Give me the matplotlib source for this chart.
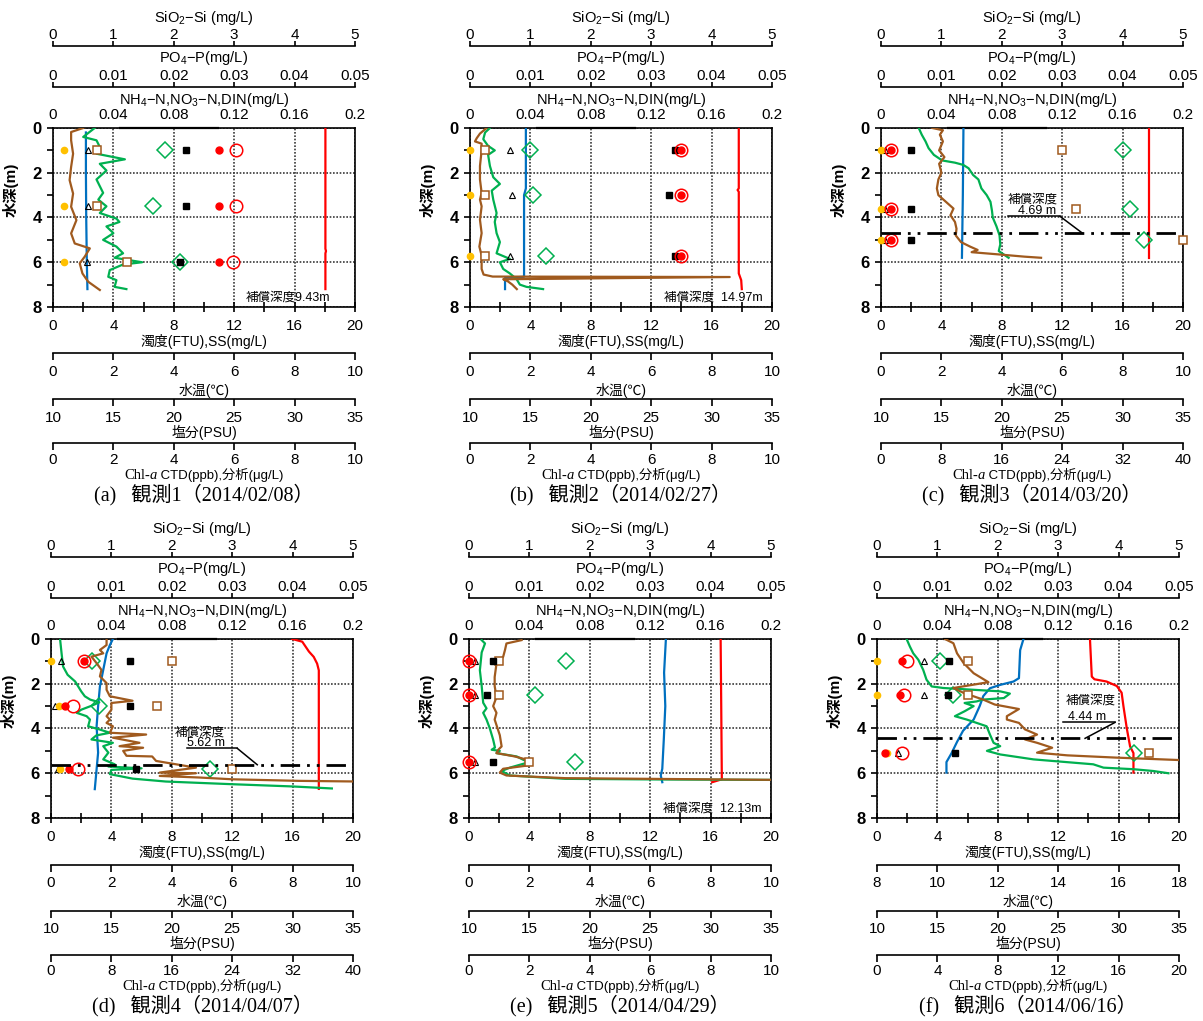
import numpy as np
import matplotlib
matplotlib.use("Agg")
import matplotlib.pyplot as plt
import matplotlib.transforms as mtransforms
from matplotlib.ticker import FuncFormatter
from matplotlib.offsetbox import TextArea, HPacker, AnnotationBbox

plt.rcParams['font.family'] = ['Liberation Sans', 'Noto Sans CJK JP', 'DejaVu Sans']
plt.rcParams['mathtext.fontset'] = 'custom'
plt.rcParams['mathtext.rm'] = 'Liberation Sans'
plt.rcParams['axes.unicode_minus'] = False

# ---------------- 観測1 (a) ----------------
A_DEPTH = [1.0, 3.5, 6.0]
A_NH4 = [0.007, 0.007, 0.007]
A_NO3 = [0.110, 0.110, 0.110]
A_DIN = [0.121, 0.121, 0.119]
A_PO4 = [0.0058, 0.0058, 0.0057]
A_SIO2 = [2.2, 2.2, 2.1]
A_SS = [2.9, 2.9, 4.9]
A_CHLA = [3.7, 3.3, 4.2]
A_TEMP_Z = [0.2, 2.0, 4.0, 6.0, 7.2]
A_TEMP = [1.09, 1.09, 1.10, 1.12, 1.14]
A_SAL_Z = [0.0, 5.4, 5.5, 5.6, 7.2]
A_SAL = [32.55, 32.55, 32.6, 32.55, 32.55]
A_TURB_Z = [0.0, 0.18, 0.55, 1.15, 1.74, 2.33, 2.93, 3.52, 4.12, 4.71, 5.16, 5.38, 5.75, 6.05, 6.5, 6.87, 7.24]
A_TURB = [2.0, 1.2, 1.2, 1.33, 1.2, 1.1, 1.33, 1.2, 1.55, 1.2, 1.44, 2.44, 2.1, 1.77, 1.95, 2.33, 3.1]
A_CHL_Z = [0.0, 0.4, 0.55, 0.85, 1.15, 1.4, 1.6, 1.9, 2.3, 2.9, 3.2, 3.5, 3.8, 4.05,
           4.2, 4.4, 4.7, 5.0, 5.3, 5.6, 5.8, 6.0, 6.1, 6.35, 6.65, 6.8, 7.1, 7.2]
A_CHL = [1.38, 1.0, 1.44, 1.55, 1.44, 2.38, 1.55, 1.77, 1.44, 1.66, 1.5, 1.77, 1.55, 2.1,
         2.2, 1.77, 2.0, 1.66, 2.1, 2.32, 2.04, 2.95, 2.32, 1.88, 1.83, 2.1, 2.04, 2.43]

# ---------------- 観測2 (b) ----------------
B_DEPTH = [1.0, 3.0, 5.7]
B_NH4 = [0.0, 0.0, 0.0]
B_NO3 = [0.14, 0.14, 0.14]
B_DIN = [0.14, 0.14, 0.14]
B_PO4 = [0.0066, 0.0069, 0.0066]
B_SIO2 = [3.39, 3.29, 3.39]
B_SS = [1.0, 1.0, 1.0]
B_CHLA = [2.0, 2.1, 2.5]
B_TEMP_Z = [0.0, 2.7, 3.0, 6.65, 6.7, 7.2]
B_TEMP = [1.85, 1.85, 1.79, 1.79, 1.16, 1.16]
B_SAL_Z = [0.0, 2.7, 2.77, 2.85, 6.5, 6.8, 7.2]
B_SAL = [32.25, 32.25, 32.15, 32.25, 32.25, 32.45, 32.5]
B_TURB_Z = [0.0, 0.25, 0.45, 0.6, 0.7, 1.0, 1.7, 2.3, 2.9, 3.2, 3.5, 4.1, 4.7, 5.3, 5.7,
            6.3, 6.55, 6.64, 6.66, 6.76, 6.85, 7.0, 7.2]
B_TURB = [1.1, 0.66, 0.45, 0.33, 0.77, 0.77, 0.66, 0.66, 0.77, 0.66, 0.77, 0.66, 0.77, 0.62, 0.77,
          0.77, 0.9, 1.5, 17.2, 2.2, 2.5, 2.8, 3.1]
B_CHL_Z = [0.0, 0.2, 0.5, 0.8, 1.0, 1.2, 1.7, 2.2, 2.5, 2.8, 3.2, 3.8, 4.2, 4.7, 5.1, 5.6,
           5.85, 6.0, 6.3, 6.5, 6.75, 7.0, 7.1, 7.2]
B_CHL = [0.66, 0.5, 0.44, 0.6, 0.82, 0.6, 0.66, 0.77, 0.99, 0.72, 0.77, 0.88, 0.82, 0.88, 0.99, 0.88,
         1.32, 0.99, 1.1, 1.32, 1.54, 1.65, 1.87, 2.42]

# ---------------- 観測3 (c) ----------------
C_DEPTH = [1.0, 3.6, 5.0]
C_NH4 = [0.0, 0.0, 0.0]
C_NO3 = [0.0066, 0.0066, 0.0066]
C_DIN = [0.0066, 0.0066, 0.0066]
C_PO4 = [0.0007, 0.0007, 0.0007]
C_SIO2 = [0.5, 0.5, 0.5]
C_SS = [12.0, 12.9, 20.0]
C_CHLA = [32.0, 33.0, 34.9]
C_TEMP_Z = [0.0, 3.0, 5.8]
C_TEMP = [2.73, 2.71, 2.68]
C_SAL_Z = [0.0, 5.8]
C_SAL = [32.2, 32.2]
C_TURB_Z = [0.0, 0.1, 0.3, 0.6, 1.0, 1.3, 1.6, 2.0, 2.3, 2.7, 3.0, 3.3, 3.6, 3.9, 4.2, 4.5,
            4.8, 5.1, 5.3, 5.45, 5.55, 5.65, 5.75, 5.8]
C_TURB = [3.4, 4.1, 3.9, 4.1, 3.85, 4.2, 3.85, 4.0, 3.8, 3.7, 3.8, 4.3, 4.8, 4.6, 4.9, 5.0,
          4.95, 5.3, 5.9, 6.4, 6.0, 7.8, 9.5, 10.6]
C_CHL_Z = [0.0, 0.3, 0.6, 0.9, 1.2, 1.45, 1.55, 1.65, 1.8, 2.1, 2.3, 2.7, 3.0, 3.3, 3.7, 4.0,
           4.4, 4.8, 5.2, 5.5, 5.8]
C_CHL = [5.0, 5.4, 5.9, 6.3, 7.0, 8.1, 9.8, 10.9, 11.6, 12.2, 12.9, 13.3, 14.0, 14.5, 14.7, 14.8,
         15.3, 15.7, 15.8, 15.6, 16.9]

# ---------------- 観測4 (d) ----------------
D_DEPTH = [1.0, 3.0, 5.8]
D_NH4 = [0.0, 0.0053, 0.006]
D_NO3 = [0.0218, 0.0092, 0.0119]
D_DIN = [0.0218, 0.0143, 0.018]
D_PO4 = [0.0016, 0.0007, 0.0012]
D_SIO2 = [1.3, 1.3, 1.4]
D_SS = [8.0, 7.0, 12.0]
D_CHLA = [5.4, 6.3, 21.0]
D_TEMP_Z = [0.0, 0.27, 0.64, 1.38, 2.12, 3.0, 3.9, 5.08, 5.82, 6.71]
D_TEMP = [2.05, 1.95, 1.84, 1.73, 1.62, 1.56, 1.51, 1.56, 1.51, 1.45]
D_SAL_Z = [0.0, 0.12, 0.56, 0.8, 1.1, 1.4, 6.7]
D_SAL = [29.97, 30.8, 31.35, 31.75, 32.03, 32.17, 32.17]
D_TURB_Z = [0.0, 0.27, 0.49, 0.64, 0.79, 1.08, 1.38, 1.67, 1.97, 2.27, 2.56, 2.76, 2.86, 3.16,
            3.45, 3.6, 3.75, 3.9, 4.19, 4.27, 4.41, 4.64, 4.79, 4.86, 5.0, 5.22, 5.25, 5.45,
            5.75, 5.97, 6.0, 6.12, 6.19, 6.27, 6.34, 6.37]
D_TURB = [3.68, 3.68, 3.24, 3.46, 2.68, 3.02, 3.34, 3.24, 3.68, 3.68, 3.9, 5.4, 4.0, 4.0,
          3.68, 3.9, 3.68, 4.1, 3.9, 6.3, 4.1, 5.86, 4.54, 6.1, 4.78, 5.0, 6.7, 6.96,
          9.6, 7.2, 9.6, 7.2, 9.8, 12.0, 16.4, 20.4]
D_CHL_Z = [0.0, 0.64, 1.23, 1.6, 1.9, 2.12, 2.34, 2.56, 2.71, 2.83, 2.98, 3.16, 3.3, 3.45,
           3.6, 3.9, 4.04, 4.19, 4.31, 4.49, 4.64, 4.79, 5.08, 5.38, 5.6, 5.7, 5.78, 5.85,
           6.04, 6.24, 6.37, 6.49, 6.59, 6.68]
D_CHL = [1.2, 1.4, 1.6, 2.2, 3.2, 3.6, 4.0, 4.48, 5.2, 6.4, 5.4, 4.0, 3.4, 4.72,
         5.16, 4.92, 6.4, 7.8, 6.0, 5.36, 8.2, 6.92, 7.6, 6.92, 8.44, 7.6, 12.0, 8.0,
         7.8, 10.8, 15.2, 24.0, 32.0, 37.2]

# ---------------- 観測5 (e) ----------------
E_DEPTH = [1.0, 2.5, 5.5]
E_NH4 = [0.0, 0.0, 0.0]
E_NO3 = [0.0, 0.0, 0.0]
E_DIN = [0.0, 0.0, 0.0]
E_PO4 = [0.001, 0.001, 0.001]
E_SIO2 = [0.4, 0.29, 0.4]
E_SS = [2.0, 2.0, 4.0]
E_CHLA = [3.2, 2.2, 3.5]
E_TEMP_Z = [0.0, 1.5, 3.0, 4.5, 5.8, 6.1, 6.4]
E_TEMP = [6.52, 6.46, 6.5, 6.45, 6.4, 6.35, 6.4]
E_SAL_Z = [0.0, 3.0, 6.27, 6.4]
E_SAL = [30.83, 30.88, 30.93, 30.13]
E_TURB_Z = [0.05, 0.2, 0.5, 0.8, 1.1, 1.7, 2.1, 2.6, 3.0, 3.3, 3.6, 4.3, 4.8, 4.95, 5.1,
            5.25, 5.45, 5.65, 5.8, 5.97, 6.1, 6.22, 6.3]
E_TURB = [3.48, 2.48, 2.38, 2.26, 1.82, 1.7, 1.7, 1.82, 1.6, 1.82, 1.7, 2.04, 2.16, 1.94, 1.82,
          3.04, 4.14, 3.92, 2.26, 2.04, 2.48, 6.4, 21.0]
E_CHL_Z = [0.05, 0.2, 0.6, 1.4, 2.1, 2.85, 3.1, 3.3, 3.6, 4.0, 4.5, 4.85, 4.95, 5.0, 5.1,
           5.25, 5.4, 5.5, 5.75, 5.9, 6.1, 6.25, 6.28, 6.3]
E_CHL = [0.42, 0.53, 0.42, 0.36, 0.42, 0.47, 0.58, 0.47, 0.58, 0.69, 0.8, 0.86, 0.75, 1.02, 0.91,
         1.58, 1.8, 2.0, 1.35, 1.08, 1.35, 3.2, 6.5, 10.5]

# ---------------- 観測6 (f) ----------------
F_DEPTH = [1.0, 2.5, 5.1]
F_NH4 = [0.0, 0.0, 0.0069]
F_NO3 = [0.0168, 0.0152, 0.0053]
F_DIN = [0.0196, 0.018, 0.0163]
F_PO4 = [0.0078, 0.0077, 0.0034]
F_SIO2 = [1.2, 1.18, 1.29]
F_SS = [6.0, 6.0, 18.0]
F_CHLA = [4.2, 5.0, 17.0]
F_TEMP_Z = [0.0, 0.5, 1.75, 1.9, 2.05, 2.2, 2.55, 3.0, 3.6, 4.1, 4.6, 5.1, 5.5, 5.97]
F_TEMP = [12.85, 12.74, 12.7, 12.52, 12.08, 11.74, 11.52, 11.4, 11.2, 10.85, 10.65, 10.47, 10.3, 10.3]
F_SAL_Z = [0.0, 1.68, 1.8, 1.9, 2.1, 2.4, 3.0, 4.0, 4.8, 5.1, 5.97]
F_SAL = [27.63, 27.78, 28.0, 29.0, 29.85, 30.25, 30.4, 30.68, 30.95, 31.23, 31.23]
F_TURB_Z = [0.0, 0.19, 0.64, 1.08, 1.53, 1.93, 2.19, 2.41, 2.71, 2.93, 3.13, 3.45, 3.6, 3.75,
            4.04, 4.27, 4.49, 4.64, 4.86, 5.08, 5.2, 5.3, 5.42]
F_TURB = [4.5, 5.06, 5.3, 5.74, 6.4, 7.38, 5.06, 5.74, 7.04, 7.8, 9.4, 8.6, 8.6, 9.4,
          9.8, 10.6, 9.8, 10.6, 11.6, 10.6, 12.6, 15.8, 20.4]
F_CHL_Z = [0.0, 0.34, 0.64, 0.93, 1.38, 1.82, 2.12, 2.19, 2.27, 2.34, 2.44, 2.64, 2.71, 2.79,
           2.86, 3.0, 3.23, 3.45, 3.6, 3.9, 4.27, 4.64, 4.79, 5.0, 5.16, 5.38, 5.6, 5.75,
           5.82, 5.9, 6.0]
F_CHL = [1.96, 2.18, 2.4, 2.74, 3.06, 3.28, 3.62, 4.4, 6.4, 8.16, 8.8, 8.4, 7.0, 6.6,
         5.8, 6.4, 5.8, 5.16, 5.94, 7.26, 7.48, 7.72, 8.16, 7.28, 8.16, 10.36, 14.32, 15.0,
         17.0, 18.3, 19.3]

TAGS = ['(a)', '(b)', '(c)', '(d)', '(e)', '(f)']
TITLES = ['観測1', '観測2', '観測3', '観測4', '観測5', '観測6']
DATES = ['2014/02/08', '2014/02/27', '2014/03/20', '2014/04/07', '2014/04/29', '2014/06/16']
COMP_DEPTH = [9.43, 14.97, 4.69, 5.62, 12.13, 4.44]
TEMP_LIM = [(0, 10), (0, 10), (0, 10), (0, 10), (0, 10), (8, 18)]
CHL_LIM = [(0, 10), (0, 10), (0, 40), (0, 40), (0, 10), (0, 20)]
SAL_LIM = (10, 35)
TURB_LIM = (0, 20)
SIO2_LIM = (0, 5)
PO4_LIM = (0, 0.05)
NH4_LIM = (0, 0.2)

panels = []
for p in 'ABCDEF':
    g = globals()
    panels.append({k: g[p + '_' + k] for k in
                   ['DEPTH', 'NH4', 'NO3', 'DIN', 'PO4', 'SIO2', 'SS', 'CHLA',
                    'TEMP_Z', 'TEMP', 'SAL_Z', 'SAL', 'TURB_Z', 'TURB', 'CHL_Z', 'CHL']})

# layout in pixels
FIG_W, FIG_H = 1203, 1021
AX_W, AX_H = 302, 179
LEFTS = [53, 470, 881, 51, 469, 877]
TOPS = [128, 128, 128, 639, 639, 639]

# where the compensation-depth label goes (axes x fraction, depth)
COMP_LABEL = {
    2: dict(t1=(0.503, 3.18), t2=(0.516, 3.72), ul=(0.42, 0.593, 3.95), lead=(0.593, 3.95, 0.666)),
    3: dict(t1=(0.492, 4.18), t2=(0.512, 4.67), ul=(0.449, 0.617, 4.89), lead=(0.617, 4.89, 0.683)),
    5: dict(t1=(0.709, 2.76), t2=(0.695, 3.47), ul=(0.616, 0.788, 3.73), lead=(0.788, 3.73, 0.689)),
}
COMP_TEXT = {0: ('補償深度9.43m', 0.917), 1: ('補償深度  14.97m', 0.97), 4: ('補償深度  12.13m', 0.967)}

RED = '#FF0000'
BLUE = '#0070C0'
GREEN = '#00B050'
BROWN = '#A05A1E'
ORANGE = '#FFC000'
TICK_FS = 11

fig = plt.figure(figsize=(FIG_W / 100, FIG_H / 100), dpi=100)


def px(x, y, w, h):
    return [x / FIG_W, 1 - (y + h) / FIG_H, w / FIG_W, h / FIG_H]


fmt = FuncFormatter(lambda v, p: f'{v:g}')


def scale_bar(x0, y, lim, top, pad=None):
    a = fig.add_axes(px(x0, y - 0.5, AX_W, 1))
    a.set_xlim(*lim)
    a.set_ylim(0, 1)
    a.patch.set_visible(False)
    for s in a.spines.values():
        s.set_visible(False)
    side = 'top' if top else 'bottom'
    a.spines[side].set_visible(True)
    a.spines[side].set_linewidth(1.2)
    a.xaxis.set_ticks_position(side)
    a.set_yticks([])
    a.set_xticks(np.linspace(lim[0], lim[1], 6))
    a.xaxis.set_major_formatter(fmt)
    if pad is None:
        pad = 0 if top else 3
    a.tick_params(axis='x', direction='out', length=3.5 if top else 5, width=1.2,
                  labelsize=TICK_FS, pad=pad)
    return a


def ftext(x, y, s, **kw):
    fig.text(x / FIG_W, 1 - y / FIG_H, s, ha='center', va='center', **kw)


for i, d in enumerate(panels):
    L, T = LEFTS[i], TOPS[i]
    B = T + AX_H
    cx = L + AX_W / 2

    ax = fig.add_axes(px(L, T, AX_W, AX_H))
    ax.set_xlim(*TURB_LIM)
    ax.set_ylim(8, 0)
    ax.set_xticks(range(0, 21, 4))
    ax.set_xticks(range(2, 20, 4), minor=True)
    ax.set_yticks(range(0, 9, 2))
    ax.set_yticks(range(1, 9, 2), minor=True)
    ax.grid(True, which='major', color='#3a3a3a', linestyle=(0, (1, 1)), linewidth=1.2)
    ax.tick_params(axis='x', which='both', direction='inout', length=7, width=1.2,
                   labelsize=TICK_FS, pad=5)
    ax.tick_params(axis='y', which='both', direction='out', length=4, width=1.2,
                   labelsize=12, pad=4)
    for lab in ax.get_yticklabels():
        lab.set_fontweight('bold')
    for s in ax.spines.values():
        s.set_linewidth(1.2)
    ax.set_ylabel('水深(m)', fontsize=11, fontweight='bold')
    ax.yaxis.set_label_coords(-34 / AX_W, 1 - 62 / AX_H)
    ax.plot([0.222, 0.545], [1, 1], transform=ax.transAxes, color='black', lw=1.6, clip_on=False)

    def layer(lim):
        t = ax.twiny()
        t.set_xlim(*lim)
        t.axis('off')
        return t

    mk = dict(linestyle='none', clip_on=False)

    t_temp = layer(TEMP_LIM[i])
    t_temp.plot(d['TEMP'], d['TEMP_Z'], color=BLUE, lw=1.6)
    t_sal = layer(SAL_LIM)
    t_sal.plot(d['SAL'], d['SAL_Z'], color=RED, lw=1.6)
    t_chl = layer(CHL_LIM[i])
    t_chl.plot(d['CHL'], d['CHL_Z'], color=GREEN, lw=1.6)
    t_chl.plot(d['CHLA'], d['DEPTH'], marker='D', ms=8, mfc='none', mec=GREEN, mew=1.1, **mk)
    t_turb = layer(TURB_LIM)
    t_turb.plot(d['TURB'], d['TURB_Z'], color=BROWN, lw=1.6)
    t_turb.plot(d['SS'], d['DEPTH'], marker='s', ms=6, mfc='white', mec=BROWN, mew=1.1, **mk)
    t_si = layer(SIO2_LIM)
    t_si.plot(d['SIO2'], d['DEPTH'], marker='s', ms=4.5, color='black', **mk)
    t_po = layer(PO4_LIM)
    t_po.plot(d['PO4'], d['DEPTH'], marker='^', ms=5, mfc='none', mec='black', mew=0.8, **mk)

    t_n = ax.twiny()
    t_n.set_xlim(*NH4_LIM)
    for s in t_n.spines.values():
        s.set_visible(False)
    t_n.set_xticks(np.linspace(0, 0.2, 6))
    t_n.xaxis.set_major_formatter(fmt)
    t_n.tick_params(axis='x', length=0, labelsize=TICK_FS, pad=4)
    t_n.plot(d['NH4'], d['DEPTH'], marker='o', ms=4.5, color=ORANGE, **mk)
    t_n.plot(d['NO3'], d['DEPTH'], marker='o', ms=5, color=RED, **mk)
    t_n.plot(d['DIN'], d['DEPTH'], marker='o', ms=9, mfc='none', mec=RED, mew=1.1, **mk)

    # compensation depth
    if i in COMP_LABEL:
        c = COMP_LABEL[i]
        tr = mtransforms.blended_transform_factory(t_n.transAxes, t_n.transData)
        t_n.axhline(COMP_DEPTH[i], color='black', lw=2, linestyle=(0, (7, 2.5, 1, 2.5, 1, 2.5)))
        t_n.text(*c['t1'], '補償深度', transform=tr, ha='center', va='center', fontsize=9)
        t_n.text(*c['t2'], f'{COMP_DEPTH[i]:.2f} m', transform=tr, ha='center', va='center', fontsize=9)
        x0, x1, yu = c['ul']
        t_n.plot([x0, x1], [yu, yu], transform=tr, color='black', lw=1.1)
        lx0, ly0, lx1 = c['lead']
        t_n.plot([lx0, lx1], [ly0, COMP_DEPTH[i]], transform=tr, color='black', lw=1.1)
    else:
        s, xr = COMP_TEXT[i]
        t_n.text(xr, 0.05, s, transform=t_n.transAxes, ha='right', va='center', fontsize=9)

    # extra scales
    scale_bar(L, T - 81, SIO2_LIM, True)
    scale_bar(L, T - 40, PO4_LIM, True)
    scale_bar(L, B + 46, TEMP_LIM[i], False)
    scale_bar(L, B + 92, SAL_LIM, False)
    scale_bar(L, B + 136, CHL_LIM[i], False, pad=2)

    ftext(cx, T - 110, 'SiO$_2$−Si (mg/L)', fontsize=10.5)
    ftext(cx, T - 70, 'PO$_4$−P(mg/L)', fontsize=10.5)
    ftext(cx, T - 28, 'NH$_4$−N,NO$_3$−N,DIN(mg/L)', fontsize=10.5)
    ftext(cx, B + 34, '濁度(FTU),SS(mg/L)', fontsize=10)
    ftext(cx, B + 83, '水温(℃)', fontsize=10)
    ftext(cx, B + 125, '塩分(PSU)', fontsize=10)

    parts = [TextArea('Chl-', textprops=dict(family='Liberation Serif', size=10.5)),
             TextArea('a', textprops=dict(family='Liberation Serif', style='italic', size=10.5)),
             TextArea(' CTD(ppb),分析(μg/L)',
                      textprops=dict(family=['Liberation Sans', 'Noto Sans CJK JP'], size=9.5))]
    pack = HPacker(children=parts, pad=0, sep=0, align='baseline')
    ab = AnnotationBbox(pack, (cx / FIG_W, 1 - (B + 168) / FIG_H), xycoords='figure fraction',
                        frameon=False, box_alignment=(0.5, 0.5), pad=0)
    fig.add_artist(ab)

    ftext(cx, B + 188, f'{TAGS[i]}   {TITLES[i]}（{DATES[i]}）', fontsize=14.5,
          family=['Liberation Serif', 'Noto Sans CJK JP'])

fig.savefig('out.png', dpi=100)
